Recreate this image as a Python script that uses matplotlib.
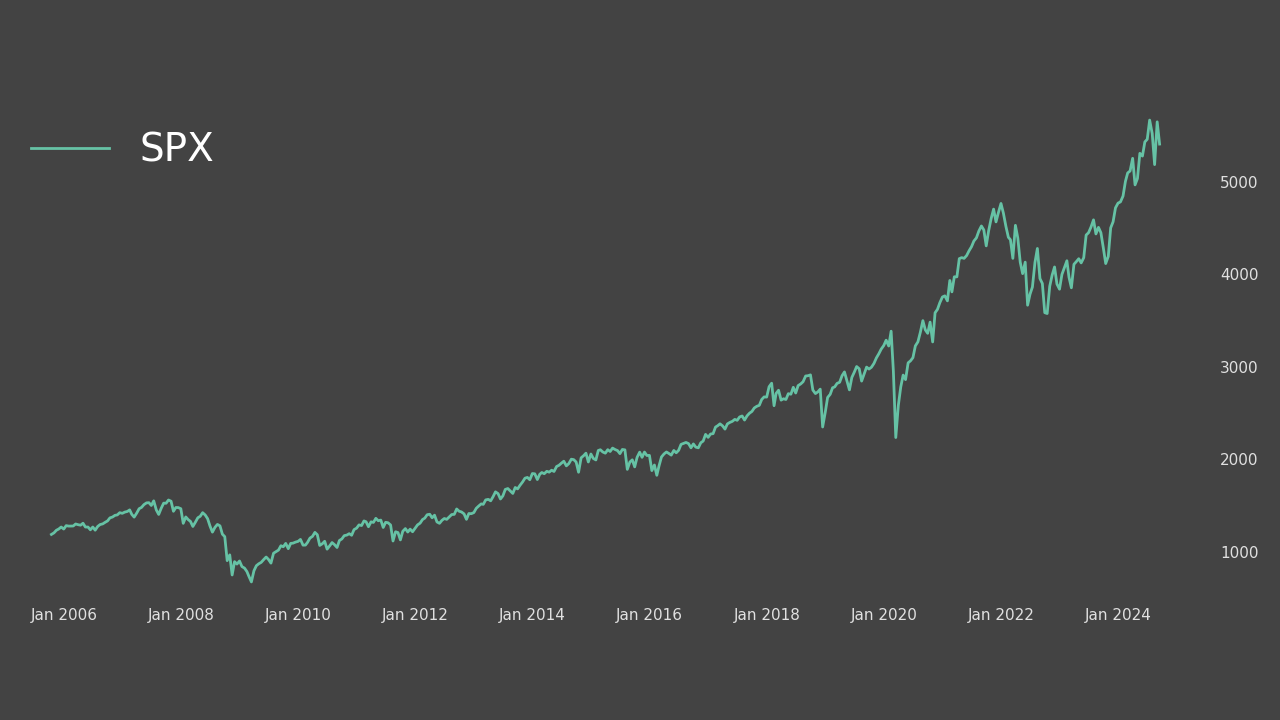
import pandas as pd
import matplotlib
matplotlib.use("Agg")
import matplotlib.pyplot as plt
import matplotlib.dates as mdates

plt.rcParams["font.family"] = ["DejaVu Sans"]

# S&P 500 level, two readings per month (mid month, month end), Oct 2005 .. Sep 2024
spx_close = [
    1190, 1207, 1235, 1249, 1270, 1248,
    1285, 1280, 1280, 1281, 1303, 1295, 1290, 1311, 1270, 1270, 1240, 1270,
    1236, 1277, 1297, 1304, 1321, 1336, 1369, 1378, 1396, 1401, 1425, 1418,
    1431, 1438, 1455, 1407, 1377, 1421, 1468, 1482, 1512, 1531, 1533, 1503,
    1553, 1455, 1406, 1474, 1528, 1527, 1562, 1549, 1440, 1481, 1480, 1468,
    1310, 1379, 1350, 1331, 1276, 1323, 1370, 1386, 1425, 1400, 1360, 1280,
    1215, 1267, 1298, 1283, 1193, 1166, 907, 969, 752, 896, 870, 903,
    843, 826, 789, 735, 677, 798, 852, 873, 888, 919, 946, 919,
    880, 987, 1004, 1021, 1068, 1057, 1093, 1036, 1093, 1096, 1107, 1115,
    1136, 1074, 1075, 1104, 1150, 1169, 1212, 1187, 1071, 1089, 1116, 1031,
    1064, 1102, 1080, 1049, 1125, 1141, 1177, 1183, 1198, 1181, 1242, 1258,
    1293, 1286, 1336, 1327, 1273, 1326, 1320, 1364, 1338, 1345, 1265, 1321,
    1316, 1292, 1119, 1219, 1210, 1131, 1224, 1253, 1216, 1247, 1219, 1258,
    1293, 1312, 1351, 1366, 1403, 1408, 1370, 1398, 1325, 1310, 1342, 1362,
    1353, 1379, 1405, 1407, 1465, 1441, 1433, 1412, 1353, 1416, 1414, 1426,
    1472, 1498, 1520, 1515, 1563, 1569, 1553, 1598, 1650, 1631, 1573, 1606,
    1676, 1686, 1661, 1633, 1697, 1682, 1721, 1757, 1798, 1806, 1781, 1848,
    1845, 1783, 1840, 1859, 1846, 1872, 1863, 1884, 1870, 1924, 1937, 1960,
    1981, 1931, 1955, 2003, 1998, 1972, 1862, 2018, 2040, 2068, 1973, 2059,
    2011, 1995, 2097, 2105, 2081, 2068, 2106, 2086, 2123, 2107, 2096, 2063,
    2108, 2104, 1893, 1972, 1996, 1920, 2023, 2079, 2023, 2080, 2043, 2044,
    1880, 1940, 1829, 1932, 2027, 2060, 2081, 2065, 2047, 2097, 2072, 2099,
    2163, 2174, 2184, 2171, 2126, 2168, 2133, 2126, 2180, 2199, 2271, 2239,
    2275, 2279, 2350, 2364, 2385, 2363, 2328, 2384, 2400, 2412, 2433, 2423,
    2459, 2470, 2426, 2472, 2500, 2519, 2557, 2575, 2585, 2648, 2676, 2674,
    2786, 2824, 2581, 2714, 2748, 2641, 2656, 2648, 2711, 2705, 2780, 2718,
    2798, 2816, 2840, 2902, 2905, 2914, 2750, 2712, 2730, 2760, 2351, 2507,
    2670, 2704, 2775, 2784, 2822, 2834, 2905, 2946, 2850, 2752, 2886, 2942,
    3004, 2980, 2847, 2926, 2998, 2977, 2996, 3038, 3097, 3141, 3192, 3231,
    3289, 3226, 3386, 2954, 2237, 2585, 2783, 2912, 2863, 3044, 3066, 3100,
    3227, 3271, 3373, 3500, 3401, 3363, 3484, 3270, 3585, 3622, 3695, 3756,
    3768, 3714, 3934, 3811, 3974, 3973, 4170, 4181, 4173, 4204, 4255, 4298,
    4360, 4395, 4468, 4523, 4480, 4308, 4471, 4605, 4705, 4567, 4668, 4766,
    4662, 4516, 4401, 4374, 4173, 4530, 4392, 4132, 4008, 4132, 3667, 3785,
    3863, 4130, 4280, 3955, 3901, 3586, 3577, 3872, 3992, 4080, 3895, 3840,
    3999, 4077, 4147, 3970, 3855, 4109, 4138, 4169, 4124, 4180, 4425, 4450,
    4510, 4589, 4437, 4508, 4450, 4288, 4117, 4194, 4502, 4568, 4719, 4770,
    4783, 4846, 5005, 5096, 5117, 5254, 4967, 5036, 5308, 5278, 5431, 5460,
    5667, 5522, 5186, 5648, 5408,
]

dates = []
for p in pd.period_range("2005-10", "2024-09", freq="M"):
    dates.append(p.to_timestamp() + pd.Timedelta(days=14))
    dates.append(p.to_timestamp(how="end").normalize())
dates = dates[:len(spx_close)]

bg = "#434343"
fig = plt.figure(figsize=(12.8, 7.2), dpi=100, facecolor=bg)
ax = fig.add_axes([-4 / 1280, 115 / 720, 1219 / 1280, 508 / 720], facecolor=bg)

ax.plot(dates, spx_close, color="#66c2a5", lw=2, label="SPX")

ax.xaxis.set_major_locator(mdates.YearLocator(2))
ax.xaxis.set_major_formatter(mdates.DateFormatter("%b %Y"))
ax.yaxis.tick_right()
ax.set_yticks([1000, 2000, 3000, 4000, 5000])
ax.tick_params(length=0, labelsize=11, colors="#e0e0e0")
ax.tick_params(axis="x", pad=2)
for s in ax.spines.values():
    s.set_visible(False)

leg = ax.legend(loc="upper left", fontsize=28, frameon=False)
for t in leg.get_texts():
    t.set_color("white")

fig.savefig("out.png", dpi=100, facecolor=bg)
